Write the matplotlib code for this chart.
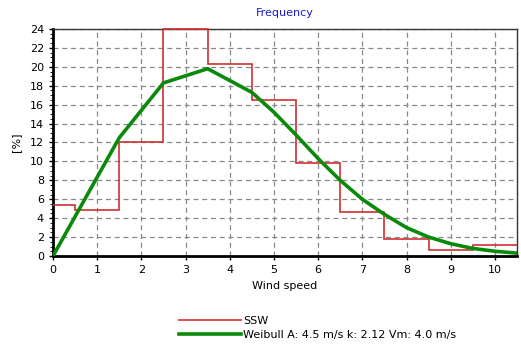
import matplotlib
matplotlib.use("Agg")
import matplotlib.pyplot as plt
from matplotlib.ticker import MultipleLocator

# measured frequency per wind speed bin (bins centred on whole m/s)
bin_edges = [0, 0.5, 1.5, 2.5, 3.5, 4.5, 5.5, 6.5, 7.5, 8.5, 9.5, 10.5]
freq_ssw = [5.4, 4.9, 12.1, 24.0, 20.3, 16.5, 9.8, 4.7, 1.8, 0.6, 1.2]

# fitted Weibull curve
weib_x = [0, 1.5, 2.5, 3.5, 4.5, 5.0, 5.5, 6.0, 6.5, 7.0, 7.5, 8.0, 8.5, 9.0, 9.5, 10.0, 10.5]
weib_y = [0, 12.5, 18.3, 19.8, 17.3, 15.2, 12.8, 10.3, 8.0, 6.0, 4.4, 3.0, 2.0, 1.3, 0.8, 0.5, 0.3]

fig = plt.figure(figsize=(5.21, 3.45), dpi=100)
ax = fig.add_axes([0.1017, 0.258, 0.8906, 0.658])

ax.stairs(freq_ssw, bin_edges, baseline=None, color="#d03030", linewidth=1.2,
          label="SSW", clip_on=False, zorder=4)
ax.plot(weib_x, weib_y, color="#0a8a0a", linewidth=2.6,
        label="Weibull A: 4.5 m/s k: 2.12 Vm: 4.0 m/s", zorder=5)

ax.set_xlim(0, 10.5)
ax.set_ylim(0, 24)
ax.xaxis.set_major_locator(MultipleLocator(1))
ax.yaxis.set_major_locator(MultipleLocator(2))
ax.yaxis.set_minor_locator(MultipleLocator(0.5))
ax.grid(True, which="major", linestyle=(0, (4, 3)), color="#888888", linewidth=0.9)
ax.tick_params(axis="both", labelsize=8, length=3, width=1)
ax.tick_params(axis="y", which="minor", length=2)

for side in ("left", "bottom"):
    ax.spines[side].set_linewidth(2)
    ax.spines[side].set_color("black")
for side in ("top", "right"):
    ax.spines[side].set_linewidth(1)
    ax.spines[side].set_color("#333333")

ax.set_title("Frequency", color="#1a1acc", fontsize=8, pad=9)
ax.set_xlabel("Wind speed", fontsize=8, labelpad=4)
ax.set_ylabel("[%]", fontsize=8, labelpad=6)

fig.legend(loc="upper left", bbox_to_anchor=(0.335, 0.097), frameon=False,
           fontsize=8, handlelength=5.6, handletextpad=0.2, labelspacing=0.35,
           borderaxespad=0)

fig.savefig("out.png", dpi=100)
